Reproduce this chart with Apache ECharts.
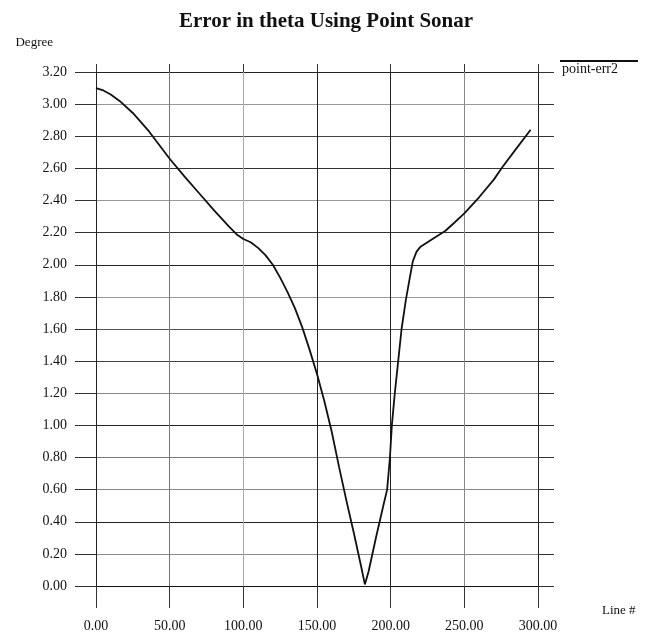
<!DOCTYPE html>
<html>
<head>
<meta charset="utf-8">
<script src="https://cdn.jsdelivr.net/npm/echarts@6/dist/echarts.min.js"></script>
<style>
  html, body { margin: 0; padding: 0; background: #fff; }
  #chart { width: 652px; height: 635px; }
</style>
</head>
<body>
<div id="chart"></div>
<script>
// line number vs. error in degrees
let lineNo = [0, 5, 10, 16, 25, 36, 50, 60, 70, 80, 90, 96, 100, 105, 110, 115, 120, 125, 130, 135, 140,
    145, 150, 155, 160, 165, 170, 175, 180, 182.5, 185, 190, 195, 197.6, 199.5, 200.8, 202.8, 205.1,
    207.4, 210.3, 213, 215, 217.5, 220, 225, 230, 237, 243, 250, 260, 270, 276, 285, 295];
let errDeg = [3.10, 3.085, 3.06, 3.02, 2.945, 2.83, 2.66, 2.55, 2.445, 2.34, 2.24, 2.185, 2.16, 2.14, 2.105, 2.06, 2.0, 1.92, 1.83, 1.73, 1.61,
    1.47, 1.32, 1.15, 0.96, 0.74, 0.53, 0.33, 0.12, 0.01, 0.09, 0.30, 0.50, 0.60, 0.80, 1.0, 1.2, 1.4,
    1.6, 1.78, 1.92, 2.02, 2.08, 2.11, 2.14, 2.17, 2.21, 2.26, 2.32, 2.42, 2.53, 2.61, 2.72, 2.84];

let seriesName = 'point-err2';
let xTicks = [0, 300, 50];     // min, max, step
let yTicks = [0, 3.2, 0.2];

// scanned grid lines are uneven, some dark some faded
let hGridColors = ['#111', '#8a8a8a', '#222', '#888', '#777', '#222', '#888', '#444', '#555', '#999',
    '#222', '#333', '#999', '#333', '#444', '#999', '#222'];
let vGridColors = ['#222', '#777', '#aaa', '#222', '#222', '#888', '#222'];

let points = lineNo.map((x, i) => [x, errDeg[i]]);

let serif = '"Liberation Serif", "Times New Roman", serif';
let chart = echarts.init(document.getElementById('chart'));

// the top / right axes only carry the little tick stubs past the grid
function stubAxis(pos, ticks, len) {
    return {
        type: 'value',
        position: pos,
        min: ticks[0], max: ticks[1], interval: ticks[2],
        axisLine: { show: false, onZero: false },
        axisTick: { show: true, inside: false, length: len, lineStyle: { color: '#333' } },
        axisLabel: { show: false },
        splitLine: { show: false }
    };
}

let conf = {
    animation: false,
    backgroundColor: '#fff',
    title: {
        text: 'Error in theta Using Point Sonar',
        left: 'center',
        top: 6,
        textStyle: { fontFamily: serif, fontSize: 21, fontWeight: 'bold', color: '#111' }
    },
    legend: {
        data: [seriesName],
        left: 557,
        top: 62,
        padding: 0,
        icon: 'none',
        itemWidth: 0,
        itemHeight: 14,
        textStyle: { fontFamily: serif, fontSize: 14, color: '#111' }
    },
    graphic: [{
        type: 'line',
        shape: { x1: 560, y1: 61, x2: 638, y2: 61 },
        style: { stroke: '#111', lineWidth: 2 }
    }],
    grid: { left: 96, right: 114, top: 72, bottom: 49 },
    xAxis: [
        {
            type: 'value',
            min: xTicks[0], max: xTicks[1], interval: xTicks[2],
            name: 'Line #',
            nameLocation: 'end',
            nameGap: 64,
            nameTextStyle: { fontFamily: serif, fontSize: 13, color: '#111', verticalAlign: 'top', padding: [18, 0, 0, 0] },
            axisLine: { show: false, onZero: false },
            axisTick: { show: true, inside: false, length: 22, lineStyle: { color: '#333' } },
            axisLabel: {
                margin: 33,
                fontFamily: serif, fontSize: 14, color: '#111',
                formatter: v => v.toFixed(2)
            },
            splitLine: { show: true, lineStyle: { color: vGridColors, width: 1 } }
        },
        stubAxis('top', xTicks, 8)
    ],
    yAxis: [
        {
            type: 'value',
            min: yTicks[0], max: yTicks[1], interval: yTicks[2],
            name: 'Degree',
            nameLocation: 'end',
            nameGap: 23,
            nameTextStyle: { fontFamily: serif, fontSize: 13, color: '#111', align: 'right', verticalAlign: 'bottom', padding: [0, 43, 0, 0] },
            axisLine: { show: false, onZero: false },
            axisTick: { show: true, inside: false, length: 21, lineStyle: { color: '#333' } },
            axisLabel: {
                margin: 29,
                fontFamily: serif, fontSize: 14, color: '#111',
                formatter: v => v.toFixed(2)
            },
            splitLine: { show: true, lineStyle: { color: hGridColors, width: 1 } }
        },
        stubAxis('right', yTicks, 16)
    ],
    series: [
        {
            name: seriesName,
            type: 'line',
            xAxisIndex: 0,
            yAxisIndex: 0,
            data: points,
            showSymbol: false,
            smooth: false,
            lineStyle: { color: '#111', width: 1.8 },
            itemStyle: { color: '#111' }
        }
    ]
};

chart.setOption(conf);
</script>
</body>
</html>
